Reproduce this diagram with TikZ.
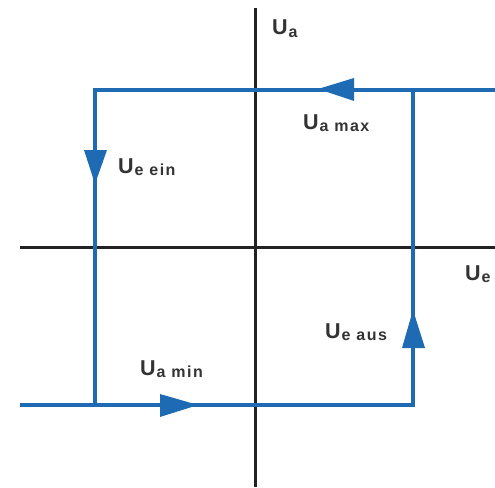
\documentclass[tikz,border=0pt]{standalone}
\usepackage{fontspec}
\setmainfont{Liberation Sans}
\definecolor{loopblue}{HTML}{1E6BB3}
\definecolor{axisgray}{HTML}{222222}
\definecolor{txtgray}{HTML}{333333}
\newcommand{\Usub}[1]{U\kern1pt\raisebox{-2.5pt}{\fontsize{16}{16}\selectfont\addfontfeatures{LetterSpace=9}#1}}
\begin{document}
\begin{tikzpicture}[x=1pt,y=-1pt,
  axis/.style={draw=axisgray,line width=3pt},
  loopline/.style={draw=loopblue,line width=3.2pt},
  tri/.style={fill=loopblue},
  lbl/.style={anchor=base west,inner sep=0pt,text=txtgray,font=\fontsize{21.5}{21.5}\selectfont\bfseries}]
\useasboundingbox (0,0) rectangle (495,487);
% axes
\coordinate (yt) at (255,8);
\coordinate (yb) at (255,487);
\coordinate (xl) at (20,247);
\coordinate (xr) at (495,247);
\draw[axis] (yb) -- (yt);
\draw[axis] (xl) -- (xr);
% loop corners
\coordinate (tr) at (495,90);
\coordinate (tl) at (95,90);
\coordinate (bl) at (95,405);
\coordinate (bstart) at (20,405);
\coordinate (br) at (413,405);
\coordinate (rt) at (413,90);
\draw[loopline] (tr) -- (tl) -- (bl);
\draw[loopline] (bstart) -- (br) -- (rt);
% arrowheads
\fill[tri] (318,89) -- (354,78) -- (354,101) -- cycle;
\fill[tri] (95,184) -- (84,150) -- (107,150) -- cycle;
\fill[tri] (198,405) -- (160,394) -- (160,417) -- cycle;
\fill[tri] (413,310) -- (402,348) -- (425,348) -- cycle;
% labels
\node[lbl] (ua) at (272,35) {\Usub{a}};
\node[lbl] (uamax) at (303,129) {\Usub{a max}};
\node[lbl] (ueein) at (118,173) {\Usub{e ein}};
\node[lbl] (ueaus) at (325,338) {\Usub{e aus}};
\node[lbl] (uamin) at (140,375) {\Usub{a min}};
\node[lbl] (ue) at (465,280) {\Usub{e}};
\end{tikzpicture}
\end{document}
